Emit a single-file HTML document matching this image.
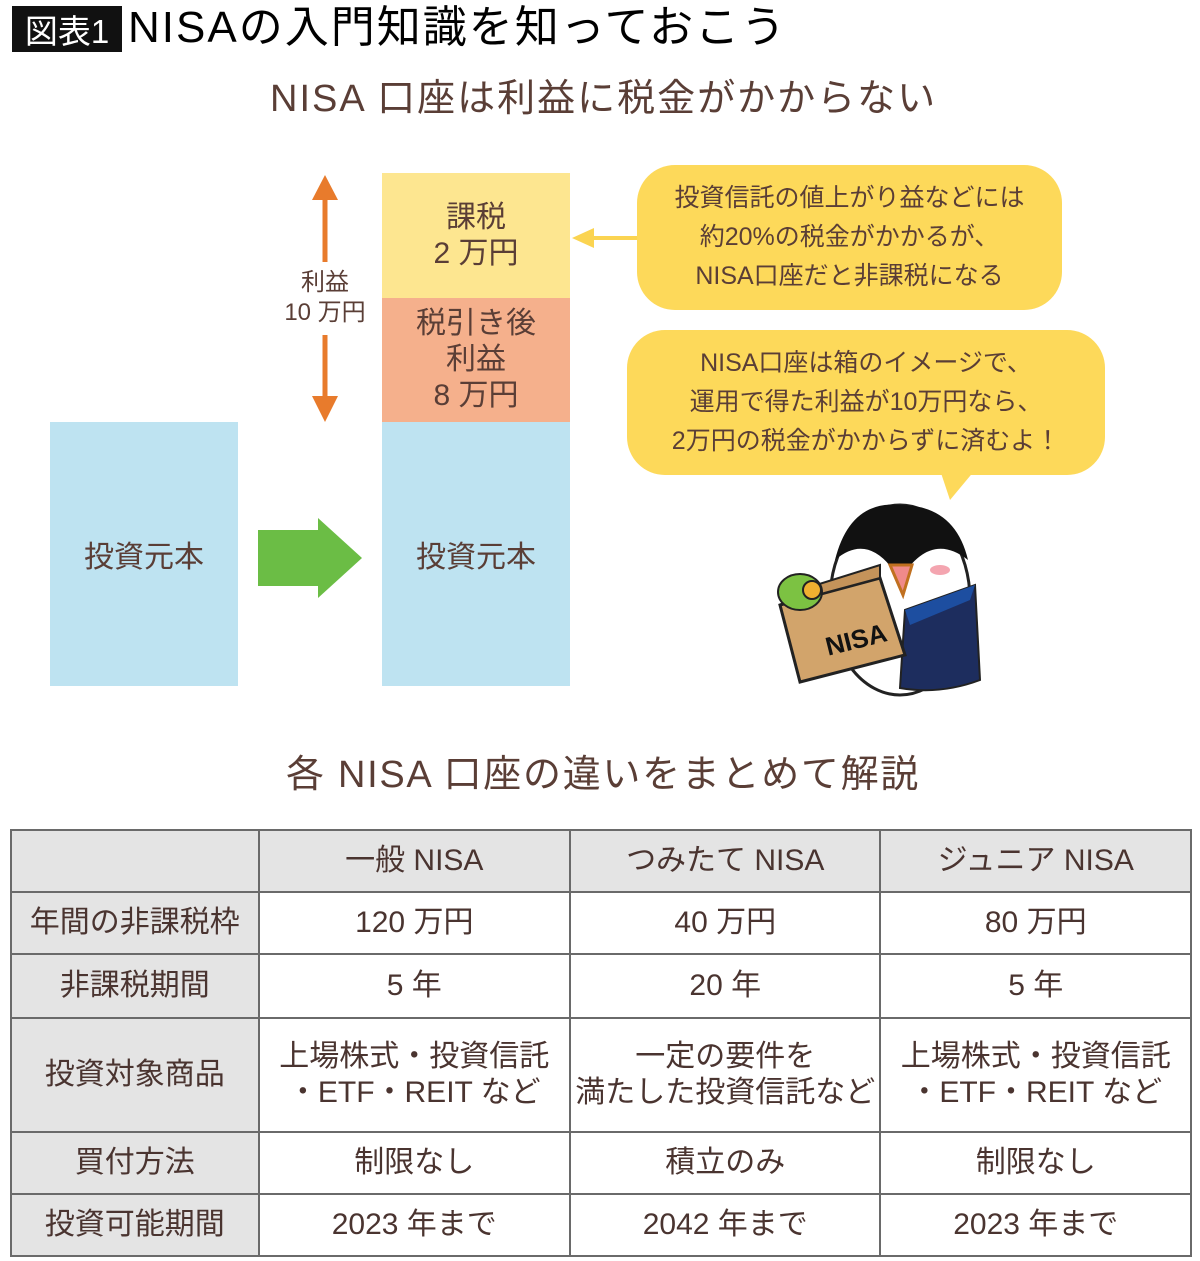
<!DOCTYPE html><html><head><meta charset="utf-8"><style>
body{margin:0;width:1200px;height:1261px;background:#fff;position:relative;font-family:"Liberation Sans","Noto Sans CJK JP",sans-serif;color:#5a3e36;overflow:hidden}
.a{position:absolute}
.c{display:flex;align-items:center;justify-content:center;text-align:center}
table{position:absolute;left:10px;top:829px;width:1182px;border-collapse:collapse;font-size:30px;color:#4a3430}
td{border:2px solid #6a6a6a;text-align:center;line-height:36px;padding:0}
td.g{background:#e4e4e4}
</style></head><body>
<div class="a c" style="left:12px;top:6px;width:110px;height:46px;background:#111;color:#fff;font-size:33px">図表1</div>
<div class="a" style="left:128px;top:0;font-size:44px;color:#000;line-height:56px;letter-spacing:2px">NISAの入門知識を知っておこう</div>
<div class="a" style="left:270px;top:74px;font-size:38px;line-height:50px;letter-spacing:2px">NISA 口座は利益に税金がかからない</div>

<div class="a c" style="left:50px;top:422px;width:188px;height:264px;background:#bee3f1;font-size:30px">投資元本</div>
<div class="a c" style="left:382px;top:173px;width:188px;height:125px;background:#fde690;font-size:30px;line-height:36px">課税<br>2 万円</div>
<div class="a c" style="left:382px;top:298px;width:188px;height:124px;background:#f5b08c;font-size:30px;line-height:36px">税引き後<br>利益<br>8 万円</div>
<div class="a c" style="left:382px;top:422px;width:188px;height:264px;background:#bee3f1;font-size:30px">投資元本</div>
<svg class="a" style="left:0;top:0" width="1200" height="720">
<polygon points="258,530 318,530 318,518 362,558 318,598 318,586 258,586" fill="#6bbd45"/>
<line x1="325" y1="195" x2="325" y2="262" stroke="#e87b2c" stroke-width="5"/>
<polygon points="312,200 325,175 338,200" fill="#e87b2c"/>
<line x1="325" y1="335" x2="325" y2="400" stroke="#e87b2c" stroke-width="5"/>
<polygon points="312,396 325,422 338,396" fill="#e87b2c"/>
<line x1="590" y1="238" x2="640" y2="238" stroke="#fbd451" stroke-width="4"/>
<polygon points="594,228 572,238 594,248" fill="#fbd451"/>
<rect x="637" y="165" width="425" height="145" rx="38" fill="#fdd95a"/>
<rect x="627" y="330" width="478" height="145" rx="38" fill="#fdd95a"/>
<polygon points="940,470 975,470 950,500" fill="#fdd95a"/>
<ellipse cx="900" cy="600" rx="70" ry="95" fill="#fff" stroke="#222" stroke-width="3"/>
<path d="M835,560 Q850,500 900,505 Q955,505 968,560 Q930,530 900,580 Q870,530 835,560Z" fill="#111"/>
<path d="M905,610 L975,585 L980,680 Q940,695 900,688Z" fill="#1d2d5e" stroke="#222" stroke-width="2"/>
<path d="M905,610 L975,585 L970,600 L910,625Z" fill="#1d4ea0"/>
<ellipse cx="858" cy="578" rx="10" ry="5" fill="#f4a5b0"/><ellipse cx="940" cy="570" rx="10" ry="5" fill="#f4a5b0"/>
<path d="M890,565 L912,565 L903,595Z" fill="#f08a8a" stroke="#c07020" stroke-width="3"/>
<polygon points="780,605 880,578 905,655 800,682" fill="#d2a46b" stroke="#222" stroke-width="3"/>
<polygon points="780,605 800,590 880,565 880,578" fill="#c4935a" stroke="#222" stroke-width="2"/>
<ellipse cx="800" cy="592" rx="22" ry="18" fill="#7cc242" stroke="#222" stroke-width="2"/>
<circle cx="812" cy="590" r="9" fill="#f0b030" stroke="#222" stroke-width="2"/>
<text x="825" y="650" font-size="26" font-weight="bold" fill="#111" font-family="Liberation Sans" transform="rotate(-14 850 640)">NISA</text>
</svg>
<div class="a c" style="left:270px;top:268px;width:110px;font-size:24px;line-height:30px">利益<br>10 万円</div>
<div class="a c" style="left:637px;top:165px;width:425px;height:145px;font-size:25px;line-height:39px">投資信託の値上がり益などには<br>約20%の税金がかかるが、<br>NISA口座だと非課税になる</div>
<div class="a c" style="left:627px;top:330px;width:478px;height:145px;font-size:25px;line-height:39px">NISA口座は箱のイメージで、<br>運用で得た利益が10万円なら、<br>2万円の税金がかからずに済むよ！</div>

<div class="a" style="left:286px;top:750px;font-size:38px;line-height:50px;letter-spacing:1.7px">各 NISA 口座の違いをまとめて解説</div>
<table>
<colgroup><col style="width:248px"><col style="width:312px"><col style="width:311px"><col style="width:311px"></colgroup>
<tr style="height:62px"><td class="g"></td><td class="g">一般 NISA</td><td class="g">つみたて NISA</td><td class="g">ジュニア NISA</td></tr>
<tr style="height:62px"><td class="g">年間の非課税枠</td><td>120 万円</td><td>40 万円</td><td>80 万円</td></tr>
<tr style="height:64px"><td class="g">非課税期間</td><td>5 年</td><td>20 年</td><td>5 年</td></tr>
<tr style="height:114px"><td class="g">投資対象商品</td><td>上場株式・投資信託<br>・ETF・REIT など</td><td>一定の要件を<br>満たした投資信託など</td><td>上場株式・投資信託<br>・ETF・REIT など</td></tr>
<tr style="height:62px"><td class="g">買付方法</td><td>制限なし</td><td>積立のみ</td><td>制限なし</td></tr>
<tr style="height:62px"><td class="g">投資可能期間</td><td>2023 年まで</td><td>2042 年まで</td><td>2023 年まで</td></tr>
</table>
</body></html>
